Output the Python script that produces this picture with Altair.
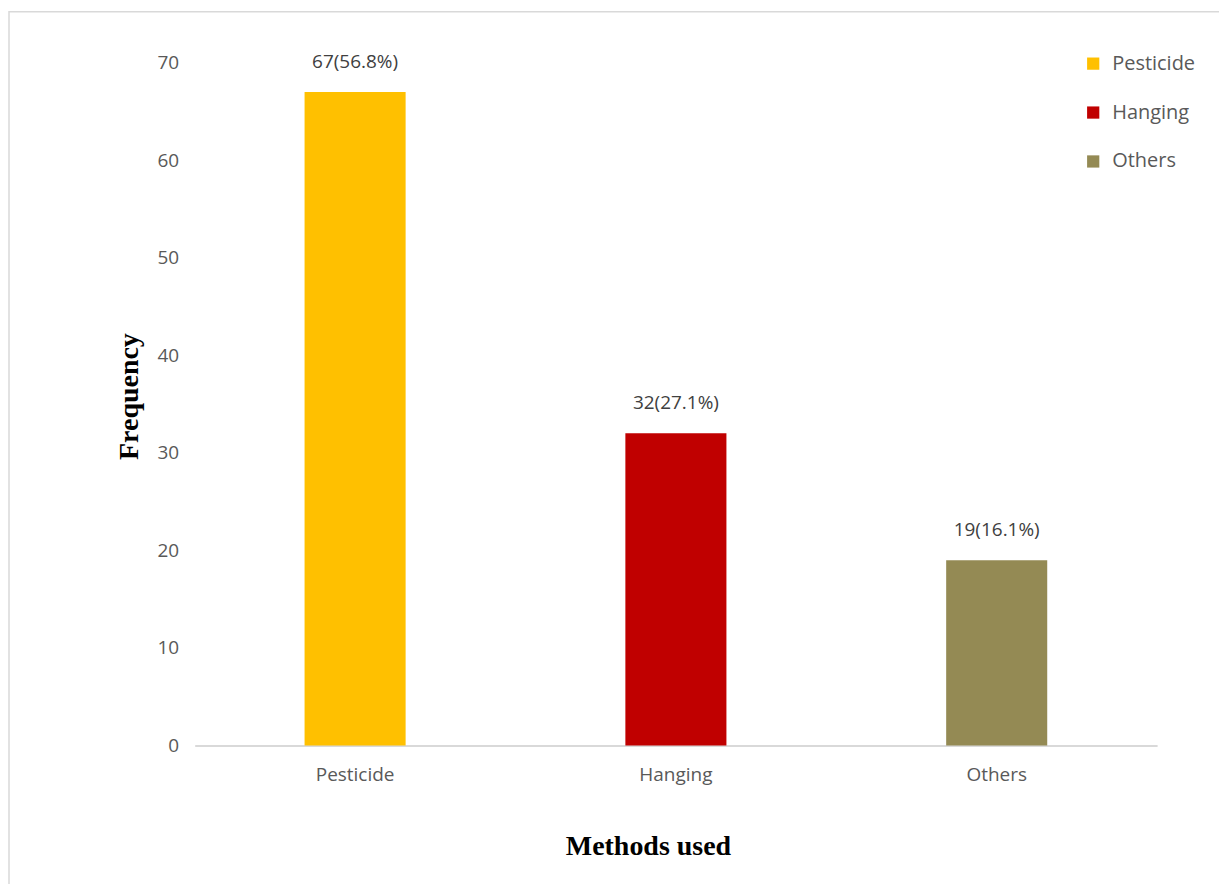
import altair as alt
import pandas as pd

methods = ["Pesticide", "Hanging", "Others"]
freq = [67, 32, 19]
labels = ["67(56.8%)", "32(27.1%)", "19(16.1%)"]
colors = ["#FFC000", "#C00000", "#948A54"]

df = pd.DataFrame({"method": methods, "freq": freq, "label": labels})

FONT = "Open Sans"

x = alt.X("method:N", sort=methods, title="Methods used",
          scale=alt.Scale(paddingInner=0.685, paddingOuter=0.3425),
          axis=alt.Axis(labelAngle=0, labelFontSize=19, labelColor="#595959",
                        labelFont=FONT, labelPadding=20,
                        ticks=False, domainColor="#d9d9d9", domainWidth=2,
                        titleFont="Liberation Serif", titleFontSize=28,
                        titleFontWeight="bold", titleColor="#000000",
                        titlePadding=48, titleX=454))
y = alt.Y("freq:Q", title="Frequency",
          scale=alt.Scale(domain=[0, 70]),
          axis=alt.Axis(values=list(range(0, 71, 10)), grid=False, domain=False,
                        ticks=False, labelFontSize=19, labelColor="#595959",
                        labelFont=FONT, labelPadding=16,
                        titleFont="Liberation Serif", titleFontSize=28,
                        titleFontWeight="bold", titleColor="#000000",
                        titlePadding=14, titleY=334))

bars = alt.Chart(df).mark_bar().encode(
    x=x, y=y,
    color=alt.Color("method:N", sort=methods,
                    scale=alt.Scale(domain=methods, range=colors),
                    legend=alt.Legend(title=None, orient="none", legendX=890, legendY=-9,
                                      symbolType="square", symbolSize=150,
                                      symbolStrokeWidth=0,
                                      labelFontSize=20, labelFont=FONT,
                                      labelColor="#595959", rowPadding=29,
                                      labelOffset=9)),
)

text = alt.Chart(df).mark_text(dy=-20, fontSize=19, font=FONT, color="#404040",
                               baseline="bottom").encode(
    x=alt.X("method:N", sort=methods), y="freq:Q", text="label:N")

border = alt.Chart(pd.DataFrame({"b": [0]})).mark_rect(
    fill=None, stroke="#d9d9d9", strokeWidth=1.5, clip=False
).encode(x=alt.value(-186), x2=alt.value(1300), y=alt.value(-51), y2=alt.value(1000))

chart = (border + bars + text).properties(
    width=964, height=684,
    autosize=alt.AutoSizeParams(type="none"),
    padding={"left": 187, "top": 54, "right": 62, "bottom": 138},
).configure(background="white").configure_view(stroke=None)

chart.save("out.html", embed_options={"renderer": "svg", "actions": False})
